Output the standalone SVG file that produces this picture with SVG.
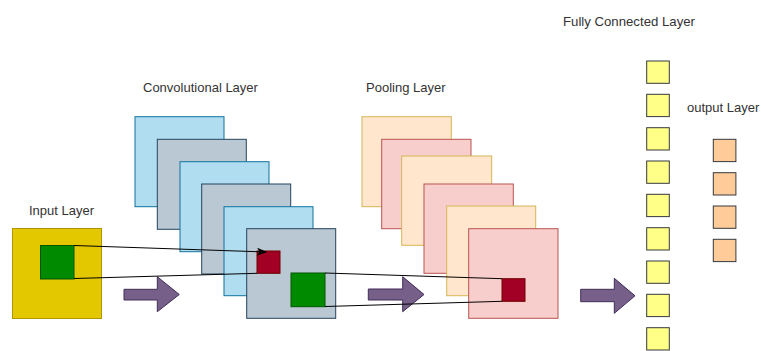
<svg xmlns="http://www.w3.org/2000/svg" width="761" height="351" viewBox="0 0 761 351">
<defs>
<style>
text{font-family:"Liberation Sans",Arial,sans-serif;font-size:13px;fill:#333333}
.blue{fill:#b1ddf0;stroke:#10739e}
.gray{fill:#bac8d3;stroke:#23445d}
.peach{fill:#ffe6cc;stroke:#d6b656}
.pink{fill:#f8cecc;stroke:#b85450}
.green{fill:#008a00;stroke:#005700}
.red{fill:#a20025;stroke:#6f0000}
.fc{fill:#ffff88;stroke:#36393d}
.out{fill:#ffcc99;stroke:#36393d}
.barrow{fill:#76608a;stroke:#432d57}
.conn{fill:none;stroke:#000000;stroke-width:1}
</style>
<marker id="ah" markerWidth="10" markerHeight="8" refX="9" refY="4" orient="auto" markerUnits="userSpaceOnUse">
<path d="M0,0 L10,4 L0,8 L2.5,4 Z" fill="#000000"/>
</marker>
</defs>
<rect width="761" height="351" fill="#ffffff"/>

<g id="input-layer">
<text x="29" y="215">Input Layer</text>
<rect x="12.5" y="228.5" width="89" height="90" fill="#e3c800" stroke="#b09500"/>
<rect class="green" x="40.5" y="245.5" width="33.5" height="33.5"/>
</g>

<g id="conv-layer">
<text x="143" y="92">Convolutional Layer</text>
<rect class="blue" x="135" y="116.7" width="89" height="90"/>
<rect class="gray" x="157.3" y="139.3" width="89" height="90"/>
<rect class="blue" x="180" y="161.7" width="89" height="90"/>
<rect class="gray" x="201.7" y="184" width="89" height="90"/>
<rect class="blue" x="224" y="206.7" width="89" height="89"/>
<rect class="gray" x="246.7" y="228.7" width="89" height="89.6"/>
<rect class="red" x="257" y="251" width="23" height="22.3"/>
<rect class="green" x="291" y="273" width="34" height="33.7"/>
</g>

<g id="pool-layer">
<text x="366" y="92">Pooling Layer</text>
<rect class="peach" x="362" y="116.7" width="89.3" height="90"/>
<rect class="pink" x="381.7" y="139.3" width="89.3" height="89.4"/>
<rect class="peach" x="401.7" y="156" width="90" height="89.3"/>
<rect class="pink" x="424" y="184" width="89.3" height="89.3"/>
<rect class="peach" x="446.7" y="206" width="89" height="89.7"/>
<rect class="pink" x="468.7" y="228.7" width="89.3" height="89.6"/>
<rect class="red" x="502" y="278.7" width="23" height="22.6"/>
</g>

<g id="fc-layer">
<text x="563" y="25.5" style="font-size:13.2px">Fully Connected Layer</text>
<rect class="fc" x="646.7" y="61" width="22.6" height="22.3"/>
<rect class="fc" x="646.7" y="94.3" width="22.6" height="22.3"/>
<rect class="fc" x="646.7" y="127.7" width="22.6" height="22.3"/>
<rect class="fc" x="646.7" y="161" width="22.6" height="22.3"/>
<rect class="fc" x="646.7" y="194.3" width="22.6" height="22.3"/>
<rect class="fc" x="646.7" y="227.7" width="22.6" height="22.3"/>
<rect class="fc" x="646.7" y="261" width="22.6" height="22.3"/>
<rect class="fc" x="646.7" y="294.3" width="22.6" height="22.3"/>
<rect class="fc" x="646.7" y="327.7" width="22.6" height="22.3"/>
</g>

<g id="output-layer">
<text x="687" y="112">output Layer</text>
<rect class="out" x="713.3" y="139.3" width="22.6" height="22.3"/>
<rect class="out" x="713.3" y="172.7" width="22.6" height="22.3"/>
<rect class="out" x="713.3" y="206" width="22.6" height="22.3"/>
<rect class="out" x="713.3" y="239.3" width="22.6" height="22.3"/>
</g>

<g id="flow-arrows">
<path class="barrow" d="M124,289.3 H157.3 V276.7 L179.3,294.5 L157.3,311.7 V300 H124 Z"/>
<path class="barrow" d="M368.3,289 H402.7 V276.7 L424,294.5 L402.7,311.7 V300 H368.3 Z"/>
<path class="barrow" d="M580.7,289.3 H614.3 V278.3 L635,295.8 L614.3,313.3 V301.7 H580.7 Z"/>
</g>

<g id="connectors">
<line class="conn" x1="74" y1="245.5" x2="266" y2="252" marker-end="url(#ah)"/>
<line class="conn" x1="74" y1="278.5" x2="257" y2="273.3"/>
<line class="conn" x1="325" y1="273" x2="502" y2="278.7"/>
<line class="conn" x1="325" y1="306.5" x2="502" y2="301.3"/>
</g>
</svg>
